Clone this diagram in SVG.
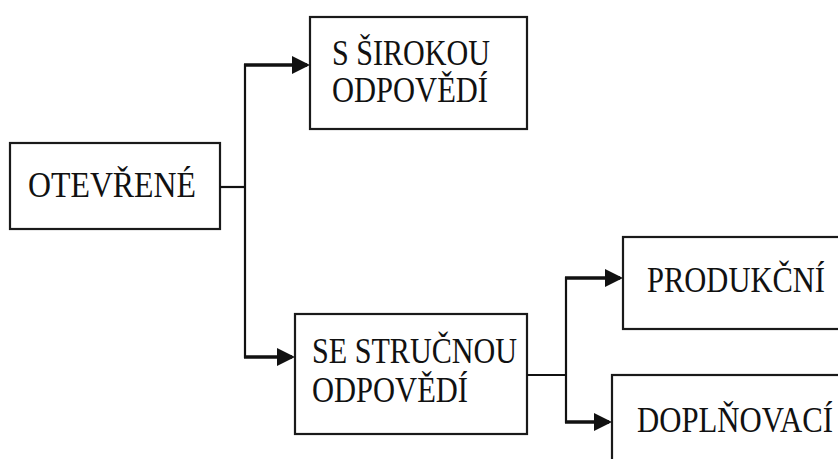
<svg xmlns="http://www.w3.org/2000/svg" width="838" height="459" viewBox="0 0 838 459">
<style>
.box{fill:#fff;stroke:#1a1a1a;stroke-width:2.2}
.t{font-family:"Liberation Serif","Times New Roman",serif;font-size:35px;fill:#111}
.ln{stroke:#111;stroke-width:2.2;fill:none}
.ar{stroke:#111;stroke-width:3.4;fill:none;marker-end:url(#ah)}
</style>
<defs>
<marker id="ah" markerUnits="userSpaceOnUse" markerWidth="20" markerHeight="20" refX="15" refY="9" orient="auto">
<path d="M0,0 L18,9 L0,18 Z" fill="#111"/>
</marker>
</defs>
<rect width="838" height="459" fill="#fff"/>
<g id="otevrene">
<rect class="box" x="10" y="143" width="210" height="86"/>
<text class="t" x="28" y="197" textLength="168" lengthAdjust="spacingAndGlyphs">OTEVŘENÉ</text>
</g>
<g id="sirokou">
<rect class="box" x="310" y="17" width="217" height="112"/>
<text class="t" x="332" y="65" textLength="158" lengthAdjust="spacingAndGlyphs">S ŠIROKOU</text>
<text class="t" x="332" y="102" textLength="156" lengthAdjust="spacingAndGlyphs">ODPOVĚDÍ</text>
</g>
<g id="strucnou">
<rect class="box" x="295" y="314" width="232" height="120"/>
<text class="t" x="312" y="363" textLength="205" lengthAdjust="spacingAndGlyphs">SE STRUČNOU</text>
<text class="t" x="312" y="402" textLength="156" lengthAdjust="spacingAndGlyphs">ODPOVĚDÍ</text>
</g>
<g id="produkcni">
<rect class="box" x="623" y="237" width="218" height="92"/>
<text class="t" x="647" y="292" textLength="178" lengthAdjust="spacingAndGlyphs">PRODUKČNÍ</text>
</g>
<g id="doplnovaci">
<rect class="box" x="612" y="375" width="229" height="100"/>
<text class="t" x="637" y="432" textLength="196" lengthAdjust="spacingAndGlyphs">DOPLŇOVACÍ</text>
</g>
<g id="connectors">
<path class="ln" d="M220,187 H245"/>
<path class="ln" d="M245,64 V358"/>
<path class="ar" d="M244,65 H307"/>
<path class="ar" d="M244,357 H292"/>
<path class="ln" d="M527,375 H566"/>
<path class="ln" d="M566,277 V423"/>
<path class="ar" d="M565,278 H620"/>
<path class="ar" d="M565,422 H609"/>
</g>
</svg>
